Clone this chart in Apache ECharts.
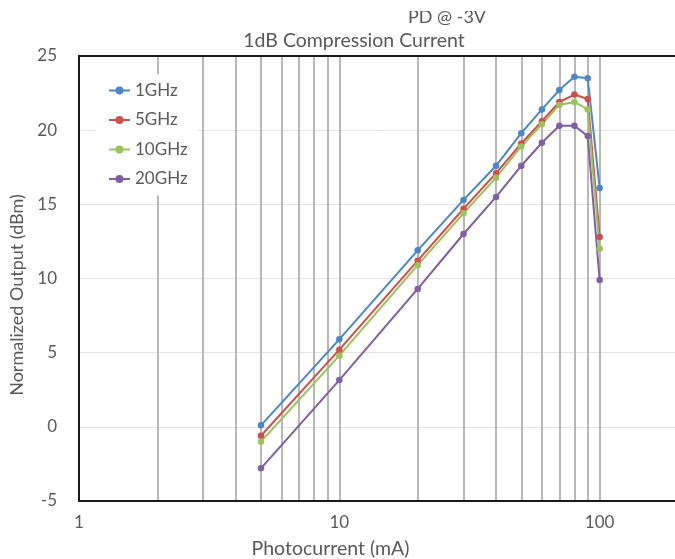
<!DOCTYPE html>
<html>
<head>
<meta charset="utf-8">
<script src="https://cdn.jsdelivr.net/npm/echarts@6/dist/echarts.min.js"></script>
<style>
  html, body { margin: 0; padding: 0; background: #fff; }
  #chart { width: 675px; height: 559px; }
</style>
</head>
<body>
<div id="chart"></div>
<script>
// photocurrent in mA
const current = [5, 10, 20, 30, 40, 50, 60, 70, 80, 90, 100]
const out1G = [0.1, 5.9, 11.9, 15.3, 17.6, 19.8, 21.4, 22.7, 23.6, 23.5, 16.1]
const out5G = [-0.6, 5.2, 11.2, 14.7, 17.1, 19.1, 20.6, 21.9, 22.4, 22.1, 12.8]
const out10G = [-1.0, 4.8, 10.9, 14.4, 16.8, 18.9, 20.4, 21.7, 21.9, 21.4, 12.0]
const out20G = [-2.8, 3.15, 9.3, 13.0, 15.5, 17.6, 19.15, 20.3, 20.3, 19.6, 9.9]
// vertical grid lines of the log axis
const gridX = [2, 3, 4, 5, 6, 7, 8, 9, 10, 20, 30, 40, 50, 60, 70, 80, 90, 100]

const names = ['1GHz', '5GHz', '10GHz', '20GHz']
const colors = ['#4a86c8', '#cf4f4c', '#9bc35a', '#7f5fa6']
const values = [out1G, out5G, out10G, out20G]

const font = 'Lato, "Open Sans", sans-serif'
const grey = '#595959'

const chart = echarts.init(document.getElementById('chart'))

const series = values.map((v, i) => ({
  name: names[i],
  type: 'line',
  z: 3,
  data: current.map((c, j) => [c, v[j]]),
  symbol: 'circle',
  symbolSize: 6.5,
  color: colors[i],
  lineStyle: { width: 2, color: colors[i] },
  itemStyle: { color: colors[i] }
}))

series.unshift({
  name: 'gridlines',
  type: 'line',
  z: 1,
  data: [],
  silent: true,
  markLine: {
    z: 1,
    silent: true,
    symbol: 'none',
    animation: false,
    label: { show: false },
    lineStyle: { color: '#b8b8b8', width: 2, type: 'solid' },
    data: gridX.map(x => ({ xAxis: x }))
  }
})

chart.setOption({
  animation: false,
  textStyle: { fontFamily: font },
  title: [{
    text: 'PD @ -3V',
    left: 442,
    top: 3,
    textAlign: 'center',
    textStyle: { fontFamily: font, fontSize: 18, fontWeight: 'normal', color: grey }
  }, {
    text: '1dB Compression Current',
    left: 349,
    top: 26,
    textAlign: 'center',
    textStyle: { fontFamily: font, fontSize: 19.5, fontWeight: 'normal', color: grey }
  }],
  graphic: [{
    type: 'rect',
    shape: { x: 390, y: 0, width: 110, height: 11 },
    style: { fill: '#fff' },
    z: 100
  }],
  legend: {
    orient: 'vertical',
    left: 95,
    top: 74,
    padding: [8, 10, 8, 13],
    backgroundColor: '#fff',
    z: 10,
    data: names,
    itemWidth: 21,
    itemHeight: 10,
    itemGap: 12.5,
    textStyle: { fontFamily: font, fontSize: 17, color: grey }
  },
  grid: {
    left: 79,
    right: -3,
    top: 56,
    bottom: 58,
    outerBoundsMode: 'none',
    show: true,
    borderColor: '#1a1a1a',
    borderWidth: 2,
    z: 5
  },
  xAxis: {
    type: 'log',
    logBase: 10,
    min: 1,
    max: 200,
    name: 'Photocurrent (mA)',
    nameLocation: 'middle',
    nameGap: 38,
    nameTextStyle: { fontFamily: font, fontSize: 19.5, color: grey, padding: [0, 96, 0, 0] },
    axisLine: { show: false },
    axisTick: { show: false },
    splitLine: { show: false },
    axisLabel: { fontFamily: font, fontSize: 17, color: grey, margin: 13, showMaxLabel: false }
  },
  yAxis: {
    type: 'value',
    min: -5,
    max: 25,
    interval: 5,
    name: 'Normalized Output (dBm)',
    nameLocation: 'middle',
    nameGap: 50,
    nameTextStyle: { fontFamily: font, fontSize: 18, color: grey, padding: [0, 33, 0, 0] },
    axisLine: { show: false },
    axisTick: { show: false },
    splitLine: { show: true, lineStyle: { color: '#e4e4e4', width: 1 } },
    axisLabel: { fontFamily: font, fontSize: 17, color: grey, margin: 22 }
  },
  series: series
})
</script>
</body>
</html>
